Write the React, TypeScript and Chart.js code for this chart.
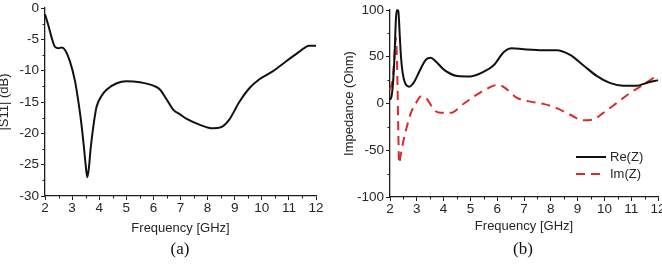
import React, { useEffect, useRef } from "react";
import { Chart, registerables } from "chart.js";

Chart.register(...registerables);

// ---- data ----
const freqS11 = [2.0, 2.12, 2.25, 2.37, 2.5, 2.62, 2.74, 2.92, 3.11, 3.23, 3.32, 3.42, 3.5, 3.56, 3.62, 3.68, 3.78, 3.9, 4.09, 4.28, 4.65, 5.0, 5.5, 6.06, 6.24, 6.49, 6.73, 7.0, 7.23, 7.7, 8.2, 8.5, 8.8, 9.17, 9.54, 9.9, 10.4, 10.9, 11.4, 11.75, 12.0];
const s11 = [-1.0, -2.7, -4.8, -6.2, -6.4, -6.3, -6.7, -8.5, -11.7, -14.9, -17.7, -21.5, -25.0, -27.0, -25.5, -22.6, -19.0, -15.8, -14.0, -13.0, -12.0, -11.7, -11.85, -12.5, -13.0, -14.6, -16.2, -17.0, -17.7, -18.6, -19.2, -19.0, -17.8, -15.0, -12.8, -11.4, -10.1, -8.5, -6.9, -6.0, -6.0];

const freqRe = [2.0, 2.06, 2.12, 2.17, 2.22, 2.26, 2.31, 2.36, 2.41, 2.47, 2.56, 2.72, 2.9, 3.09, 3.34, 3.52, 3.71, 4.02, 4.51, 5.0, 5.5, 5.87, 6.25, 6.55, 6.99, 7.73, 8.22, 8.72, 9.21, 9.71, 10.2, 10.7, 11.2, 11.57, 12.0];
const reZ = [4, 8, 25, 52, 90, 100, 99, 75, 50, 33, 22, 18, 23, 34, 47, 49, 45, 36, 29.5, 29, 34, 41, 55, 59, 58, 57, 57, 52, 41, 29.5, 22, 19, 19, 22, 25];

const freqIm = [2.0, 2.1, 2.16, 2.22, 2.25, 2.28, 2.31, 2.34, 2.4, 2.5, 2.6, 2.78, 2.97, 3.15, 3.34, 3.65, 3.89, 4.26, 4.76, 5.38, 6.05, 6.25, 6.74, 7.24, 7.73, 8.22, 8.72, 9.21, 9.59, 9.96, 10.45, 10.95, 11.44, 12.0];
const imZ = [15, 27, 48, 70, 55, 20, -30, -64, -55, -40, -28, -10, 0.5, 7.5, 6, -7, -10, -10, 0, 12, 20, 17.5, 6, 2, -0.4, -5, -12, -18, -17, -10, 0.4, 11, 20, 30.6];

const freqTicks = [2, 3, 4, 5, 6, 7, 8, 9, 10, 11, 12];
const s11Ticks = [0, -5, -10, -15, -20, -25, -30];
const zTicks = [100, 50, 0, -50, -100];

const labelRe = "Re(Z)";
const labelIm = "Im(Z)";

// ---- styles ----
const FONT = "'Liberation Sans', Arial, sans-serif";
const TEXT = "#262626";
const AXIS = "#1e1e1e";
const BLACK = "#111111";
const RED = "#d92b2b";

const pts = (xs: number[], ys: number[]) => xs.map((x, i) => ({ x, y: ys[i] }));

const minorTicks = {
  id: "minorTicks",
  afterDraw(chart: any, _args: any, opts: any) {
    const ctx = chart.ctx;
    const xs = chart.scales.x;
    const ys = chart.scales.y;
    const area = chart.chartArea;
    ctx.save();
    ctx.strokeStyle = AXIS;
    ctx.lineWidth = 1;
    ctx.beginPath();
    for (let i = 0; i < opts.xMajor.length - 1; i++) {
      const v = (opts.xMajor[i] + opts.xMajor[i + 1]) / 2;
      const px = Math.round(xs.getPixelForValue(v)) + 0.5;
      ctx.moveTo(px, area.bottom);
      ctx.lineTo(px, area.bottom + 2.5);
    }
    for (let i = 0; i < opts.yMajor.length - 1; i++) {
      const v = (opts.yMajor[i] + opts.yMajor[i + 1]) / 2;
      const py = Math.round(ys.getPixelForValue(v)) + 0.5;
      ctx.moveTo(area.left, py);
      ctx.lineTo(area.left - 2.5, py);
    }
    ctx.stroke();
    ctx.restore();
  },
};

const cornerLegend = {
  id: "cornerLegend",
  afterDraw(chart: any, _args: any, opts: any) {
    if (!opts || !opts.show) return;
    const ctx = chart.ctx;
    ctx.save();
    chart.data.datasets.forEach((ds: any, i: number) => {
      const y = opts.y + i * opts.gap;
      ctx.strokeStyle = ds.borderColor;
      ctx.lineWidth = ds.borderWidth;
      ctx.setLineDash(ds.borderDash || []);
      ctx.beginPath();
      ctx.moveTo(opts.x, y);
      ctx.lineTo(opts.x + opts.len, y);
      ctx.stroke();
      ctx.setLineDash([]);
      ctx.fillStyle = TEXT;
      ctx.font = `13px ${FONT}`;
      ctx.textBaseline = "middle";
      ctx.textAlign = "left";
      ctx.fillText(ds.label, opts.x + opts.len + 4, y + 0.5);
    });
    ctx.restore();
  },
};

function axisCommon(tickList: number[], min: number, max: number) {
  return {
    type: "linear" as const,
    min,
    max,
    afterBuildTicks: (s: any) => {
      s.ticks = tickList.map((v) => ({ value: v }));
    },
    grid: {
      display: true,
      drawOnChartArea: false,
      drawTicks: true,
      tickLength: 4,
      color: AXIS,
      lineWidth: 1,
    },
    border: { display: true, color: AXIS, width: 1.3 },
    ticks: {
      autoSkip: false,
      maxRotation: 0,
      padding: 2,
      color: TEXT,
      font: { family: FONT, size: 13.5, lineHeight: 0.9 },
      callback: (v: any) => String(v),
    },
  };
}

function makeConfig(opts: {
  datasets: any[];
  yTicks: number[];
  yMin: number;
  yMax: number;
  yTitle: string;
  yTitleLH: number;
  yTitlePad: number;
  yWidth: number;
  xHeight: number;
  xTitlePad: number;
  padding: any;
  legend: any;
}): any {
  return {
    type: "line",
    data: { datasets: opts.datasets },
    plugins: [minorTicks, cornerLegend],
    options: {
      responsive: false,
      animation: false,
      devicePixelRatio: 1,
      parsing: true,
      layout: { padding: opts.padding },
      plugins: {
        legend: { display: false },
        tooltip: { enabled: false },
        minorTicks: { xMajor: freqTicks, yMajor: opts.yTicks },
        cornerLegend: opts.legend,
      },
      elements: { point: { radius: 0 } },
      scales: {
        x: {
          ...axisCommon(freqTicks, 2, 12),
          position: "bottom",
          afterFit: (s: any) => {
            s.height = opts.xHeight;
          },
          title: {
            display: true,
            text: "Frequency [GHz]",
            color: TEXT,
            font: { family: FONT, size: 13 },
            padding: { top: 0, bottom: opts.xTitlePad },
          },
        },
        y: {
          ...axisCommon(opts.yTicks, opts.yMin, opts.yMax),
          position: "left",
          afterFit: (s: any) => {
            s.width = opts.yWidth;
          },
          title: {
            display: true,
            text: opts.yTitle,
            color: TEXT,
            font: { family: FONT, size: 13, lineHeight: opts.yTitleLH },
            padding: { top: opts.yTitlePad, bottom: 0 },
          },
        },
      },
    },
  };
}

export default function App() {
  const leftRef = useRef<HTMLCanvasElement>(null);
  const rightRef = useRef<HTMLCanvasElement>(null);

  useEffect(() => {
    const left = new Chart(
      leftRef.current as HTMLCanvasElement,
      makeConfig({
        datasets: [
          {
            label: "|S11|",
            data: pts(freqS11, s11),
            borderColor: BLACK,
            borderWidth: 2,
            pointRadius: 0,
            cubicInterpolationMode: "monotone",
            clip: false,
          },
        ],
        yTicks: s11Ticks,
        yMin: -30,
        yMax: 0,
        yTitle: "|S11| (dB)",
        yTitleLH: 0.7,
        yTitlePad: 0,
        yWidth: 45,
        xHeight: 44,
        xTitlePad: 4,
        padding: { left: 0, top: 6, right: 15, bottom: 0 },
        legend: { show: false },
      })
    );
    const right = new Chart(
      rightRef.current as HTMLCanvasElement,
      makeConfig({
        datasets: [
          {
            label: labelRe,
            data: pts(freqRe, reZ),
            borderColor: BLACK,
            borderWidth: 2,
            pointRadius: 0,
            cubicInterpolationMode: "monotone",
            clip: false,
          },
          {
            label: labelIm,
            data: pts(freqIm, imZ),
            borderColor: RED,
            borderWidth: 2,
            borderDash: [9, 6],
            pointRadius: 0,
            cubicInterpolationMode: "monotone",
            clip: false,
          },
        ],
        yTicks: zTicks,
        yMin: -100,
        yMax: 100,
        yTitle: "Impedance (Ohm)",
        yTitleLH: 1.2,
        yTitlePad: 11,
        yWidth: 59,
        xHeight: 43,
        xTitlePad: 6,
        padding: { left: 0, top: 10, right: 18, bottom: 0 },
        legend: { show: true, x: 245, y: 157, gap: 17, len: 30 },
      })
    );
    return () => {
      left.destroy();
      right.destroy();
    };
  }, []);

  const caption = (cx: number): React.CSSProperties => ({
    position: "absolute",
    left: cx - 30,
    width: 60,
    top: 239,
    textAlign: "center",
    fontFamily: "'Liberation Serif', 'Times New Roman', serif",
    fontSize: 17,
    lineHeight: "20px",
    color: "#111",
  });

  return (
    <div
      style={{
        position: "absolute",
        left: 0,
        top: 0,
        width: 662,
        height: 264,
        overflow: "hidden",
        background: "#fff",
      }}
    >
      <canvas ref={leftRef} width={331} height={240} style={{ position: "absolute", left: 0, top: 0 }} />
      <canvas ref={rightRef} width={345} height={240} style={{ position: "absolute", left: 331, top: 0 }} />
      <div style={caption(180)}>(a)</div>
      <div style={caption(523)}>(b)</div>
    </div>
  );
}
